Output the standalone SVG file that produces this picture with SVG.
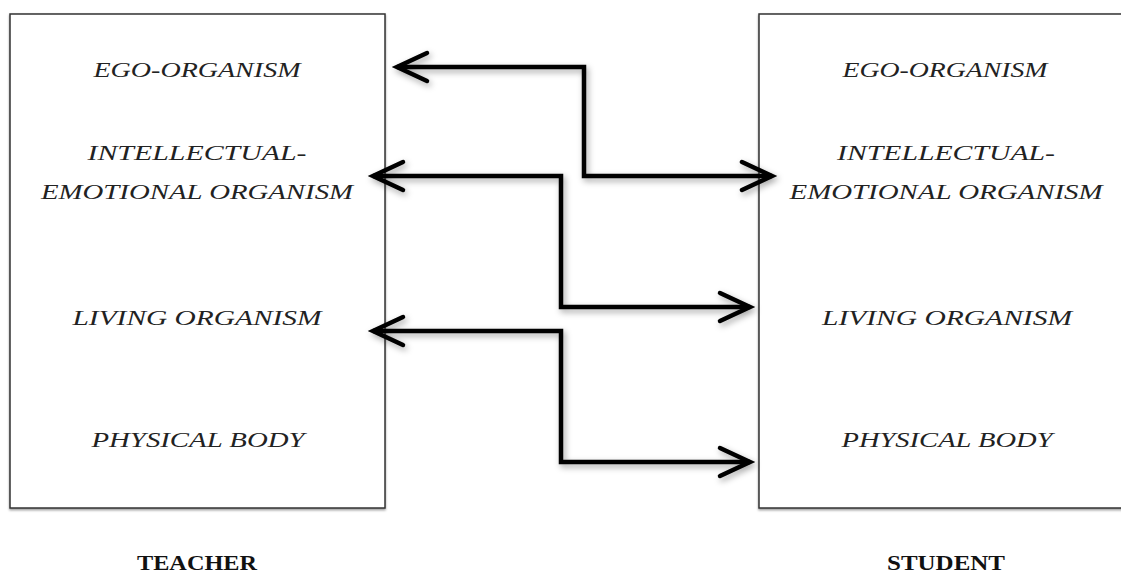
<svg xmlns="http://www.w3.org/2000/svg" width="1121" height="573" viewBox="0 0 1121 573">
<style>
.box{fill:#fff;stroke:#333;stroke-width:1.5}
.lbl{font-family:"Liberation Serif",serif;font-style:italic;font-size:22px;fill:#222;text-anchor:middle}
.cap{font-family:"Liberation Serif",serif;font-weight:bold;font-size:21px;fill:#111;text-anchor:middle}
.conn{fill:none;stroke:#000;stroke-width:4.5;stroke-linejoin:miter}
</style>
<defs>
<filter id="sh" x="-10%" y="-10%" width="130%" height="130%">
<feDropShadow dx="2" dy="3" stdDeviation="3" flood-color="#000" flood-opacity="0.35"/>
</filter>
<filter id="bsh" x="-5%" y="-5%" width="110%" height="110%">
<feDropShadow dx="0" dy="1.5" stdDeviation="1" flood-color="#000" flood-opacity="0.4"/>
</filter>
<marker id="ah" markerUnits="userSpaceOnUse" markerWidth="40" markerHeight="40" refX="0" refY="0" orient="auto-start-reverse" overflow="visible">
<path d="M -30 -14 L 0 0 L -30 14" fill="none" stroke="#000" stroke-width="4.5" stroke-linecap="round" stroke-linejoin="miter"/>
</marker>
</defs>
<rect width="1121" height="573" fill="#fff"/>
<g id="teacher">
<rect class="box" x="10" y="14" width="375" height="494" filter="url(#bsh)"/>
<text class="lbl" x="197" y="77" textLength="207" lengthAdjust="spacingAndGlyphs">EGO-ORGANISM</text>
<text class="lbl" x="197" y="160" textLength="219" lengthAdjust="spacingAndGlyphs">INTELLECTUAL-</text>
<text class="lbl" x="197" y="199" textLength="312" lengthAdjust="spacingAndGlyphs">EMOTIONAL ORGANISM</text>
<text class="lbl" x="197" y="325" textLength="249" lengthAdjust="spacingAndGlyphs">LIVING ORGANISM</text>
<text class="lbl" x="198" y="447" textLength="213" lengthAdjust="spacingAndGlyphs">PHYSICAL BODY</text>
<text class="cap" x="197" y="570" textLength="120" lengthAdjust="spacingAndGlyphs">TEACHER</text>
</g>
<g id="student">
<rect class="box" x="759" y="14" width="370" height="494" filter="url(#bsh)"/>
<text class="lbl" x="945" y="77" textLength="205" lengthAdjust="spacingAndGlyphs">EGO-ORGANISM</text>
<text class="lbl" x="946" y="160" textLength="218" lengthAdjust="spacingAndGlyphs">INTELLECTUAL-</text>
<text class="lbl" x="946" y="199" textLength="313" lengthAdjust="spacingAndGlyphs">EMOTIONAL ORGANISM</text>
<text class="lbl" x="947" y="325" textLength="250" lengthAdjust="spacingAndGlyphs">LIVING ORGANISM</text>
<text class="lbl" x="947" y="447" textLength="211" lengthAdjust="spacingAndGlyphs">PHYSICAL BODY</text>
<text class="cap" x="946" y="570" textLength="118" lengthAdjust="spacingAndGlyphs">STUDENT</text>
</g>
<g id="connectors" filter="url(#sh)">
<path class="conn" d="M 397 67 H 584 V 176 H 772" marker-start="url(#ah)" marker-end="url(#ah)"/>
<path class="conn" d="M 373 176 H 561 V 307 H 750" marker-start="url(#ah)" marker-end="url(#ah)"/>
<path class="conn" d="M 373 331 H 561 V 462 H 750" marker-start="url(#ah)" marker-end="url(#ah)"/>
</g>
</svg>
